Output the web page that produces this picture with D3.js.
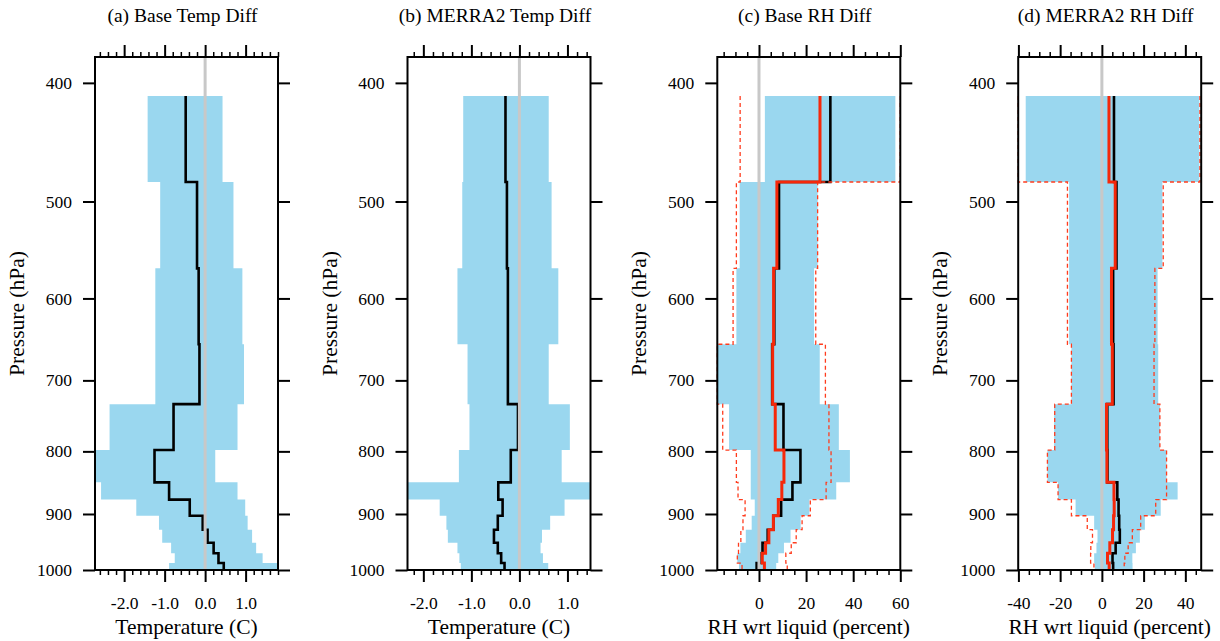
<!DOCTYPE html>
<html>
<head>
<meta charset="utf-8">
<script src="https://cdn.jsdelivr.net/npm/d3@7"></script>
<style>
    body { margin: 0; background: #fff; }
    text { font-family: "Liberation Serif", "Times New Roman", serif; fill: #000; }
    .axis text { font-size: 17.5px; }
    .title { font-size: 19.5px; }
    .axis-label { font-size: 21.5px; }
</style>
</head>
<body>
<svg id="chart" width="1220" height="641"></svg>
<script>
/** Layer boundaries (hPa), top to bottom */
const pBounds = [410, 482, 567, 654, 732, 798, 848, 876, 903, 927, 950, 969, 987, 1000];
const pTicks = [400, 500, 600, 700, 800, 900, 1000];

// (a) Base temperature difference
const aLo   = [-1.42, -1.11, -1.23, -1.23, -2.36, -2.72, -2.57, -1.70, -1.14, -1.06, -0.84, -0.75, -0.89];
const aHi   = [0.43, 0.70, 0.92, 0.96, 0.80, 0.25, 0.80, 0.99, 1.05, 1.16, 1.26, 1.42, 1.79];
const aMean = [-0.48, -0.20, -0.16, -0.14, -0.78, -1.25, -0.89, -0.38, -0.06, 0.06, 0.21, 0.33, 0.46];

// (b) MERRA2 temperature difference
const bLo   = [-1.17, -1.19, -1.29, -1.08, -1.04, -1.26, -2.33, -1.66, -1.52, -1.49, -1.29, -1.25, -1.22];
const bHi   = [0.61, 0.67, 0.81, 0.61, 1.05, 0.88, 1.48, 0.94, 0.64, 0.47, 0.44, 0.49, 0.60];
const bMean = [-0.29, -0.26, -0.24, -0.24, -0.03, -0.18, -0.44, -0.35, -0.45, -0.53, -0.45, -0.38, -0.31];

// (c) Base RH difference
const cLo    = [2.5, -8.2, -9.6, -17.7, -12.7, -3.5, -3.5, -1.8, -3.1, -5.6, -7.9, -9.2, -8.5];
const cHi    = [57.9, 24.9, 23.4, 25.8, 33.9, 38.6, 32.8, 21.4, 17.7, 13.4, 10.6, 8.2, 7.3];
const cMean  = [30.3, 8.5, 6.5, 5.6, 10.4, 17.6, 14.2, 9.4, 6.1, 3.7, 1.5, 1.0, -1.0];
const cMean2 = [25.9, 7.6, 6.2, 5.8, 6.9, 10.6, 9.7, 8.2, 6.1, 4.2, 2.8, 1.4, 2.3];
const cLo2   = [-8.0, -9.6, -11.0, -17.7, -15.4, -9.6, -8.9, -5.9, -6.8, -7.7, -8.7, -9.2, -7.2];
const cHi2   = [60, 24.9, 24.1, 28.2, 29.7, 30.6, 28.5, 21.8, 18.3, 15.8, 13.7, 11.4, 12.0];

// (d) MERRA2 RH difference
const dLo    = [-36.5, -15.7, -15.7, -14.6, -22.9, -26.1, -21.0, -12.6, -3.7, -2.1, -2.6, -3.7, -3.4];
const dHi    = [46.7, 29.0, 26.7, 27.0, 27.8, 31.0, 36.3, 28.2, 20.6, 18.2, 16.3, 14.6, 14.7];
const dMean  = [5.8, 7.0, 5.4, 5.6, 2.6, 2.7, 7.4, 8.0, 8.3, 8.6, 6.6, 5.1, 5.4];
const dMean2 = [3.4, 6.4, 4.6, 5.0, 2.2, 2.4, 5.8, 5.9, 5.6, 5.1, 3.8, 2.7, 3.5];
const dLo2   = [-40.1, -16.5, -16.5, -14.6, -22.6, -26.1, -21.0, -14.6, -7.0, -4.5, -5.3, -5.4, -3.8];
const dHi2   = [47.0, 29.4, 25.4, 25.0, 27.8, 31.0, 31.0, 25.8, 18.6, 14.6, 12.6, 11.0, 10.7];

const titles = ['(a) Base Temp Diff', '(b) MERRA2 Temp Diff', '(c) Base RH Diff', '(d) MERRA2 RH Diff'];
const xLabels = ['Temperature (C)', 'Temperature (C)', 'RH wrt liquid (percent)', 'RH wrt liquid (percent)'];
const xDomains = [[-2.72, 1.8], [-2.33, 1.48], [-17.7, 60], [-40.1, 47.6]];
const xTicks = [[-2, -1, 0, 1], [-2, -1, 0, 1], [0, 20, 40, 60], [-40, -20, 0, 20, 40]];
const minorSteps = [0.2, 0.2, 5, 5];

const panels = [
    { lo: aLo, hi: aHi, mean: aMean },
    { lo: bLo, hi: bHi, mean: bMean },
    { lo: cLo, hi: cHi, mean: cMean, mean2: cMean2, lo2: cLo2, hi2: cHi2 },
    { lo: dLo, hi: dHi, mean: dMean, mean2: dMean2, lo2: dLo2, hi2: dHi2 }
];

/** Layout */
const svg = d3.select('#chart');
const plotTop = 57, plotBottom = 570, panelW = 183;
const panelLeft = [95, 407.5, 717.3, 1018.2];
const COLORS = { band: '#9ad7ef', zero: '#c8c8c8', mean: '#000', mean2: '#f5280a', range2: '#ff3c1e' };

const yScale = d3.scaleLog().domain([381, 1000]).range([plotTop, plotBottom]);

// Turn per-layer values into step points [value, pressure]
const stepPoints = values => values.flatMap((v, i) => [[v, pBounds[i]], [v, pBounds[i + 1]]]);

const minorTicks = (domain, step, majors) => d3.range(Math.ceil(domain[0] / step), Math.floor(domain[1] / step) + 1)
    .map(k => +(k * step).toFixed(3))
    .filter(v => !majors.includes(v));

panels.forEach((p, idx) => {
    const x = d3.scaleLinear().domain(xDomains[idx]).range([0, panelW]);
    const g = svg.append('g').attr('transform', `translate(${panelLeft[idx]},0)`);
    const fmt = idx < 2 ? d => d.toFixed(1) : d => `${d}`;
    const minors = minorTicks(xDomains[idx], minorSteps[idx], xTicks[idx]);

    const line = d3.line().x(d => x(d[0])).y(d => yScale(d[1]));

    // Spread band
    const hiPts = stepPoints(p.hi);
    const band = stepPoints(p.lo).map((d, i) => [d[0], hiPts[i][0], d[1]]);
    g.append('path')
        .datum(band)
        .attr('fill', COLORS.band)
        .attr('d', d3.area().x0(d => x(d[0])).x1(d => x(d[1])).y(d => yScale(d[2])));

    // Mean profile
    g.append('path')
        .datum(stepPoints(p.mean))
        .attr('fill', 'none')
        .attr('stroke', COLORS.mean)
        .attr('stroke-width', 2.6)
        .attr('d', line);

    // Zero line
    g.append('line')
        .attr('x1', x(0)).attr('x2', x(0))
        .attr('y1', plotTop).attr('y2', plotBottom)
        .attr('stroke', COLORS.zero)
        .attr('stroke-width', 3);

    // Second data set: dashed range and mean
    if (p.mean2) {
        [p.lo2, p.hi2].forEach(vals => {
            g.append('path')
                .datum(stepPoints(vals))
                .attr('fill', 'none')
                .attr('stroke', COLORS.range2)
                .attr('stroke-width', 1.3)
                .attr('stroke-dasharray', '4,3')
                .attr('d', line);
        });
        g.append('path')
            .datum(stepPoints(p.mean2))
            .attr('fill', 'none')
            .attr('stroke', COLORS.mean2)
            .attr('stroke-width', 3)
            .attr('d', line);
    }

    // Axes
    const addAxis = (axis, transform, width) => g.append('g')
        .attr('class', 'axis')
        .attr('transform', transform)
        .call(axis)
        .call(a => a.select('.domain').remove())
        .call(a => a.selectAll('line').attr('stroke-width', width))
        .attr('font-family', null)
        .attr('font-size', null);

    addAxis(d3.axisBottom(x).tickValues(xTicks[idx]).tickFormat(fmt).tickSize(12).tickPadding(15), `translate(0,${plotBottom})`, 2);
    addAxis(d3.axisBottom(x).tickValues(minors).tickFormat('').tickSize(5), `translate(0,${plotBottom})`, 1.5);
    addAxis(d3.axisTop(x).tickValues(xTicks[idx]).tickFormat('').tickSize(12), `translate(0,${plotTop})`, 2);
    addAxis(d3.axisTop(x).tickValues(minors).tickFormat('').tickSize(5), `translate(0,${plotTop})`, 1.5);
    addAxis(d3.axisLeft(yScale).tickValues(pTicks).tickFormat(d3.format('d')).tickSize(12).tickPadding(11), 'translate(0,0)', 2);
    addAxis(d3.axisRight(yScale).tickValues(pTicks).tickFormat('').tickSize(12), `translate(${panelW},0)`, 2);

    // Frame
    g.append('rect')
        .attr('x', 0).attr('y', plotTop)
        .attr('width', panelW).attr('height', plotBottom - plotTop)
        .attr('fill', 'none')
        .attr('stroke', '#000')
        .attr('stroke-width', 2);

    // Texts
    g.append('text')
        .attr('class', 'title')
        .attr('x', panelW / 2 - 4).attr('y', 22)
        .attr('text-anchor', 'middle')
        .text(titles[idx]);

    g.append('text')
        .attr('class', 'axis-label')
        .attr('x', panelW / 2).attr('y', 634)
        .attr('text-anchor', 'middle')
        .text(xLabels[idx]);

    g.append('text')
        .attr('class', 'axis-label')
        .attr('transform', `translate(-71,${(plotTop + plotBottom) / 2}) rotate(-90)`)
        .attr('text-anchor', 'middle')
        .text('Pressure (hPa)');
});
</script>
</body>
</html>
